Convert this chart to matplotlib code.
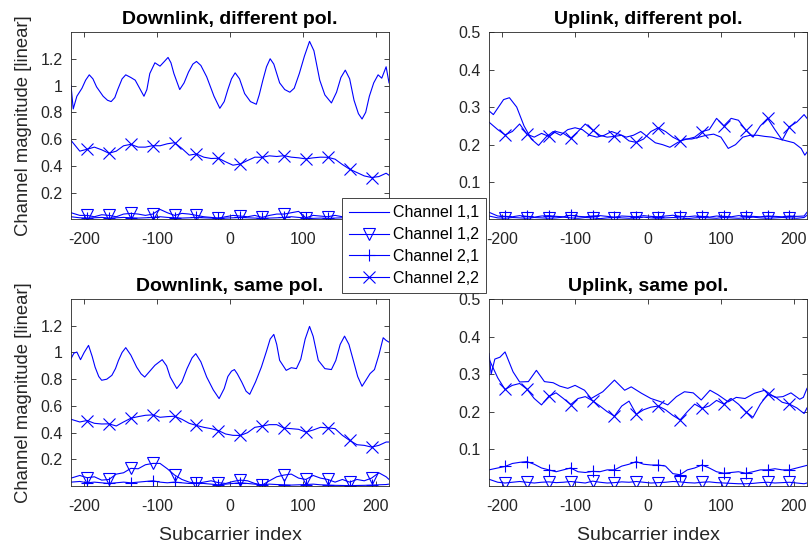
import numpy as np
import matplotlib
matplotlib.use('Agg')
import matplotlib.pyplot as plt

plt.rcParams['font.family'] = ['Liberation Sans', 'DejaVu Sans']
plt.rcParams['axes.unicode_minus'] = False

# subcarrier grid of the marked channels (markers every 3rd point, from -196)
sc = np.r_[-218, np.arange(-206, 215, 10), 218]

# ---- Downlink, different pol.
dl_diff_x11 = [-218, -215, -210, -203, -198, -193, -188, -183, -174, -168, -163, -158, -154, -148, -143, -136,
               -130, -124, -118, -114, -110, -103, -96, -90, -85, -81, -77, -69, -63, -57, -51, -46, -40,
               -32, -22, -14, -8, -3, 2, 7, 13, 20, 28, 36, 40, 45, 50, 55, 60, 68, 75, 82, 88, 95, 102,
               109, 115, 123, 130, 139, 146, 152, 158, 164, 170, 176, 181, 186, 191, 197, 203, 208, 214, 218]
dl_diff_y11 = [1.0, 0.825, 0.92, 0.98, 1.04, 1.08, 1.05, 0.99, 0.92, 0.89, 0.88, 0.91, 0.97, 1.05, 1.08, 1.06,
               1.04, 0.98, 0.92, 0.97, 1.09, 1.17, 1.145, 1.18, 1.21, 1.17, 1.09, 0.97, 1.02, 1.10, 1.16, 1.18, 1.15,
               1.065, 0.92, 0.83, 0.88, 0.97, 1.05, 1.095, 1.05, 0.94, 0.88, 0.86, 0.93, 1.04, 1.14, 1.20, 1.16, 1.02, 0.97, 0.95, 0.98, 1.09, 1.22,
               1.33, 1.26, 1.04, 0.93, 0.87, 0.95, 1.06, 1.115, 1.05, 0.89, 0.79, 0.75, 0.80, 0.92, 1.02, 1.08, 1.055, 1.14, 1.02]
dl_diff_12 = [0.05, 0.03, 0.03, 0.02, 0.035,
              0.03, 0.02, 0.04, 0.045, 0.04,
              0.03, 0.04, 0.075, 0.05, 0.03,
              0.045, 0.04, 0.03, 0.02, 0.015,
              0.01, 0.02, 0.03, 0.025, 0.02,
              0.03, 0.015, 0.03, 0.04, 0.04,
              0.05, 0.06, 0.012, 0.03, 0.025,
              0.02, 0.03, 0.02, 0.015, 0.02,
              0.025, 0.02, 0.015, 0.02, 0.02]
dl_diff_21 = [0.02, 0.012, 0.01, 0.012, 0.015,
              0.01, 0.012, 0.015, 0.012, 0.01,
              0.012, 0.015, 0.02, 0.015, 0.012,
              0.01, 0.012, 0.015, 0.012, 0.01,
              0.008, 0.01, 0.012, 0.015, 0.012,
              0.01, 0.008, 0.01, 0.012, 0.015,
              0.02, 0.015, 0.01, 0.008, 0.01,
              0.008, 0.01, 0.012, 0.01, 0.008,
              0.01, 0.012, 0.01, 0.008, 0.01]
dl_diff_22 = [0.59, 0.51, 0.524, 0.54, 0.52,
              0.494, 0.51, 0.55, 0.561, 0.54,
              0.54, 0.551, 0.55, 0.565, 0.573,
              0.53, 0.48, 0.489, 0.465, 0.455,
              0.457, 0.43, 0.405, 0.414, 0.44,
              0.465, 0.464, 0.475, 0.47, 0.476,
              0.465, 0.46, 0.452, 0.46, 0.465,
              0.464, 0.45, 0.41, 0.375, 0.35,
              0.325, 0.313, 0.32, 0.345, 0.33]

# ---- Uplink, different pol.
ul_diff_x11 = [-218, -212, -205, -198, -190, -180, -170, -160, -150, -140, -130, -120, -110, -100, -90,
               -80, -70, -60, -50, -40, -30, -20, -10, 0, 10, 20, 30, 40, 50, 60, 70, 80, 90, 100,
               110, 120, 130, 140, 150, 160, 170, 180, 190, 200, 210, 215, 218]
ul_diff_y11 = [0.29, 0.28, 0.30, 0.32, 0.325, 0.30, 0.25, 0.215, 0.198, 0.22, 0.235, 0.225, 0.24, 0.245, 0.24,
               0.225, 0.22, 0.225, 0.235, 0.228, 0.22, 0.225, 0.235, 0.22, 0.205, 0.20, 0.193, 0.205, 0.215, 0.215, 0.22, 0.225, 0.228, 0.22,
               0.19, 0.20, 0.22, 0.225, 0.225, 0.222, 0.22, 0.215, 0.21, 0.205, 0.19, 0.172, 0.18]
ul_diff_12 = [0.01, 0.005, 0.004, 0.006, 0.005,
              0.004, 0.006, 0.005, 0.004, 0.005,
              0.007, 0.005, 0.004, 0.006, 0.005,
              0.003, 0.005, 0.006, 0.005, 0.004,
              0.005, 0.007, 0.005, 0.004, 0.005,
              0.006, 0.005, 0.003, 0.005, 0.006,
              0.005, 0.004, 0.006, 0.005, 0.004,
              0.005, 0.007, 0.005, 0.004, 0.005,
              0.006, 0.005, 0.004, 0.006, 0.012]
ul_diff_21 = [0.02, 0.01, 0.009, 0.008, 0.011,
              0.009, 0.007, 0.01, 0.011, 0.009,
              0.008, 0.012, 0.009, 0.008, 0.01,
              0.011, 0.009, 0.007, 0.01, 0.009,
              0.008, 0.011, 0.009, 0.008, 0.01,
              0.012, 0.009, 0.008, 0.01, 0.009,
              0.007, 0.01, 0.009, 0.008, 0.011,
              0.01, 0.009, 0.008, 0.01, 0.009,
              0.008, 0.01, 0.009, 0.01, 0.02]
ul_diff_22 = [0.26, 0.24, 0.226, 0.235, 0.255,
              0.228, 0.22, 0.23, 0.222, 0.235,
              0.23, 0.217, 0.235, 0.255, 0.239,
              0.225, 0.22, 0.222, 0.225, 0.21,
              0.206, 0.215, 0.235, 0.245, 0.235,
              0.22, 0.21, 0.215, 0.22, 0.235,
              0.24, 0.27, 0.25, 0.27, 0.265,
              0.239, 0.22, 0.25, 0.27, 0.24,
              0.212, 0.248, 0.26, 0.28, 0.27]

# ---- Downlink, same pol.
dl_same_x11 = [-218, -214, -210, -205, -200, -194, -189, -185, -180, -176, -169, -162, -157, -153, -148, -143,
               -136, -128, -122, -117, -110, -103, -93, -87, -82, -73, -66, -59, -52, -47, -40, -32, -23,
               -15, -8, -3, 2, 6, 10, 16, 22, 27, 35, 43, 50, 55, 60, 64, 68, 77, 84, 91, 97, 103,
               109, 114, 121, 130, 139, 145, 151, 157, 163, 169, 175, 181, 186, 192, 198, 204, 210, 214, 218]
dl_same_y11 = [0.954, 0.995, 1.003, 0.946, 1.0, 1.053, 0.97, 0.89, 0.82, 0.792, 0.80, 0.829, 0.88, 0.94, 1.0, 1.036,
               0.98, 0.89, 0.84, 0.816, 0.86, 0.904, 0.946, 0.90, 0.816, 0.73, 0.78, 0.879, 0.96, 0.991, 0.93, 0.816, 0.72,
               0.655, 0.73, 0.82, 0.86, 0.872, 0.84, 0.779, 0.71, 0.687, 0.78, 0.891, 1.01, 1.10, 1.135, 1.06, 0.941, 0.866, 0.886, 0.879, 0.95, 1.10,
               1.195, 1.12, 0.941, 0.879, 0.872, 0.94, 1.06, 1.122, 1.06, 0.941, 0.82, 0.747, 0.79, 0.842, 0.872, 0.98, 1.11, 1.09, 1.077]
dl_same_12 = [0.06, 0.08, 0.063, 0.07, 0.045,
              0.05, 0.09, 0.10, 0.133, 0.13,
              0.16, 0.17, 0.17, 0.13, 0.083,
              0.05, 0.03, 0.021, 0.03, 0.04,
              0.026, 0.02, 0.035, 0.045, 0.04,
              0.02, 0.008, 0.04, 0.07, 0.083,
              0.09, 0.06, 0.05, 0.08, 0.06,
              0.05, 0.03, 0.05, 0.03, 0.05,
              0.04, 0.06, 0.10, 0.07, 0.05]
dl_same_21 = [0.03, 0.035, 0.025, 0.03, 0.025,
              0.02, 0.025, 0.03, 0.025, 0.03,
              0.035, 0.04, 0.03, 0.025, 0.03,
              0.025, 0.02, 0.025, 0.02, 0.015,
              0.01, 0.015, 0.02, 0.025, 0.02,
              0.015, 0.01, 0.015, 0.012, 0.01,
              0.008, 0.01, 0.012, 0.015, 0.01,
              0.008, 0.006, 0.005, 0.004, 0.005,
              0.006, 0.008, 0.01, 0.012, 0.015]
dl_same_22 = [0.50, 0.48, 0.491, 0.47, 0.465,
              0.466, 0.45, 0.48, 0.508, 0.52,
              0.53, 0.533, 0.515, 0.52, 0.523,
              0.50, 0.47, 0.454, 0.44, 0.43,
              0.416, 0.39, 0.38, 0.379, 0.40,
              0.44, 0.449, 0.46, 0.46, 0.434,
              0.43, 0.425, 0.404, 0.42, 0.44,
              0.436, 0.43, 0.38, 0.342, 0.31,
              0.305, 0.292, 0.305, 0.33, 0.33]

# ---- Uplink, same pol.
ul_same_x11 = [-218, -215, -210, -203, -196, -185, -176, -164, -153, -142, -130, -121, -110, -100, -87,
               -78, -62, -46, -32, -23, -9, 4, 18, 27, 39, 50, 62, 73, 85, 96, 110, 121, 133,
               146, 160, 174, 185, 196, 208, 213, 218]
ul_same_y11 = [0.355, 0.30, 0.34, 0.345, 0.359, 0.306, 0.279, 0.28, 0.31, 0.28, 0.277, 0.268, 0.262, 0.27, 0.257,
               0.235, 0.253, 0.284, 0.257, 0.266, 0.249, 0.235, 0.226, 0.218, 0.24, 0.253, 0.25, 0.231, 0.257, 0.245, 0.226, 0.238, 0.235,
               0.249, 0.257, 0.238, 0.24, 0.25, 0.233, 0.238, 0.262]
ul_same_12 = [0.02, 0.012, 0.01, 0.012, 0.014,
              0.012, 0.01, 0.012, 0.013, 0.011,
              0.012, 0.014, 0.012, 0.01, 0.015,
              0.012, 0.01, 0.011, 0.013, 0.012,
              0.014, 0.012, 0.01, 0.011, 0.012,
              0.014, 0.013, 0.011, 0.01, 0.012,
              0.013, 0.011, 0.01, 0.009, 0.008,
              0.008, 0.009, 0.011, 0.012, 0.01,
              0.011, 0.012, 0.01, 0.008, 0.01]
ul_same_21 = [0.045, 0.05, 0.054, 0.062, 0.065,
              0.067, 0.06, 0.05, 0.045, 0.04,
              0.045, 0.05, 0.04, 0.038, 0.041,
              0.04, 0.045, 0.045, 0.055, 0.06,
              0.067, 0.06, 0.058, 0.058, 0.055,
              0.035, 0.032, 0.045, 0.05, 0.058,
              0.05, 0.04, 0.036, 0.038, 0.04,
              0.036, 0.04, 0.045, 0.045, 0.048,
              0.045, 0.045, 0.05, 0.055, 0.057]
ul_same_22 = [0.34, 0.29, 0.259, 0.27, 0.275,
              0.26, 0.235, 0.218, 0.241, 0.25,
              0.235, 0.219, 0.235, 0.24, 0.229,
              0.215, 0.20, 0.188, 0.215, 0.228,
              0.193, 0.205, 0.212, 0.215, 0.205,
              0.19, 0.178, 0.20, 0.22, 0.209,
              0.215, 0.23, 0.22, 0.235, 0.22,
              0.20, 0.185, 0.22, 0.246, 0.24,
              0.225, 0.22, 0.21, 0.195, 0.21]

labels = ['Channel 1,1', 'Channel 1,2', 'Channel 2,1', 'Channel 2,2']
blue = (0, 0, 1)
grey = (0.15, 0.15, 0.15)

fig = plt.figure(figsize=(8.1, 5.44), dpi=100)


def panel(pos, title, x11, y11, y12, y21, y22, ylim, yticks, ylab, xlab):
    ax = fig.add_axes(pos)
    lines = []
    lines += ax.plot(x11, y11, color=blue, lw=0.8)
    lines += ax.plot(sc, y12, color=blue, lw=0.8, marker='v', ms=9, mfc='none', mew=0.8,
                     markevery=slice(2, 42, 3))
    lines += ax.plot(sc, y21, color=blue, lw=0.8, marker='+', ms=9, mew=0.8,
                     markevery=slice(2, 42, 3))
    lines += ax.plot(sc, y22, color=blue, lw=0.8, marker='x', ms=8, mew=0.8,
                     markevery=slice(2, 42, 3))
    ax.set_xlim(-218, 218)
    ax.set_ylim(*ylim)
    ax.set_xticks([-200, -100, 0, 100, 200])
    ax.set_yticks(yticks)
    ax.set_yticklabels(['%g' % v for v in yticks])
    ax.tick_params(direction='in', top=True, right=True, length=3.5, width=0.6,
                   labelsize=11.5, colors=grey, labelcolor=grey)
    ax.tick_params(axis='x', pad=9)
    ax.tick_params(axis='y', pad=6)
    for s in ax.spines.values():
        s.set_color(grey)
        s.set_linewidth(0.6)
    ax.set_title(title, fontsize=14, fontweight='bold', pad=5.6)
    if ylab:
        ax.set_ylabel('Channel magnitude [linear]', fontsize=13.3, color=grey, labelpad=6)
    if xlab:
        ax.set_xlabel('Subcarrier index', fontsize=14, color=grey, labelpad=10)
    return lines


h = panel([0.0877, 0.5974, 0.3926, 0.3438], 'Downlink, different pol.',
          dl_diff_x11, dl_diff_y11, dl_diff_12, dl_diff_21, dl_diff_22,
          (0.003, 1.4), [0.2, 0.4, 0.6, 0.8, 1, 1.2], True, False)
panel([0.6037, 0.5974, 0.3926, 0.3438], 'Uplink, different pol.',
      ul_diff_x11, ul_diff_y11, ul_diff_12, ul_diff_21, ul_diff_22,
      (0.002, 0.5), [0.1, 0.2, 0.3, 0.4, 0.5], False, False)
panel([0.0877, 0.1066, 0.3926, 0.3438], 'Downlink, same pol.',
      dl_same_x11, dl_same_y11, dl_same_12, dl_same_21, dl_same_22,
      (0.001, 1.4), [0.2, 0.4, 0.6, 0.8, 1, 1.2], True, True)
panel([0.6037, 0.1066, 0.3926, 0.3438], 'Uplink, same pol.',
      ul_same_x11, ul_same_y11, ul_same_12, ul_same_21, ul_same_22,
      (0.002, 0.5), [0.1, 0.2, 0.3, 0.4, 0.5], False, True)

leg = fig.legend(h, labels, loc='upper left', bbox_to_anchor=(0.4219, 0.6355),
                 fontsize=11.5, frameon=True, fancybox=False, framealpha=1, handlelength=2.5,
                 borderaxespad=0, labelspacing=0.42, handletextpad=0.25, borderpad=0.45)
leg.get_frame().set_edgecolor(grey)
leg.get_frame().set_linewidth(0.6)
for t in leg.get_texts():
    t.set_color('black')

fig.savefig('out.png', dpi=100)
